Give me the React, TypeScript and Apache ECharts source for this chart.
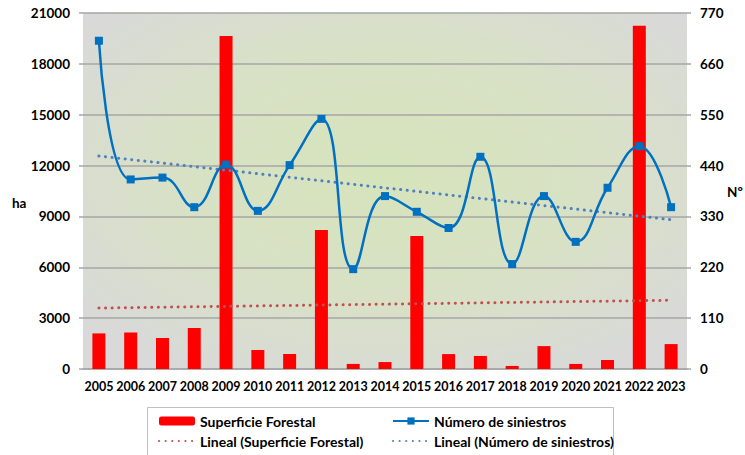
import React, { useEffect, useRef } from "react";
import * as echarts from "echarts";

const years = ["2005","2006","2007","2008","2009","2010","2011","2012","2013","2014","2015","2016","2017","2018","2019","2020","2021","2022","2023"];
const superficie = [2100,2150,1830,2420,19650,1120,885,8200,300,410,7850,880,770,180,1350,300,530,20250,1470];
const siniestros = [710,410,414,350,442,342,441,541,216,374,340,305,459,227,374,275,392,482,350];
const leftTicks = { min: 0, max: 21000, interval: 3000 };
const rightTicks = { min: 0, max: 770, interval: 110 };

function linearTrend(values: number[]): number[] {
  const n = values.length;
  const xs = values.map((_, i) => i);
  const mx = xs.reduce((a, b) => a + b, 0) / n;
  const my = values.reduce((a, b) => a + b, 0) / n;
  let num = 0, den = 0;
  for (let i = 0; i < n; i++) { num += (xs[i] - mx) * (values[i] - my); den += (xs[i] - mx) ** 2; }
  const b = num / den;
  const a = my - b * mx;
  return xs.map((x) => +(a + b * x).toFixed(2));
}

const FONT = "Lato, 'Open Sans', sans-serif";

export default function App() {
  const ref = useRef<HTMLDivElement>(null);
  useEffect(() => {
    if (!ref.current) return;
    const chart = echarts.init(ref.current, undefined, { renderer: "svg" });
    const labelStyle = { fontFamily: FONT, fontWeight: "bold" as const, color: "#000", fontSize: 13.5 };
    const legendText = { ...labelStyle, fontSize: 14 };
    chart.setOption({
      animation: false,
      backgroundColor: "#fff",
      textStyle: { fontFamily: FONT },
      grid: {
        left: 83, right: 58, top: 13, bottom: 86,
        show: true,
        borderWidth: 0,
        backgroundColor: new echarts.graphic.RadialGradient(0.5, 0.45, 0.65, [
          { offset: 0, color: "#d6e4bb" },
          { offset: 0.55, color: "#d8e1c6" },
          { offset: 1, color: "#d9d9d9" },
        ]),
      },
      xAxis: {
        type: "category",
        data: years,
        boundaryGap: true,
        axisLine: { show: true, lineStyle: { color: "#a6a6a6", width: 1.5 } },
        axisTick: { show: false },
        axisLabel: { ...labelStyle, fontSize: 12.5, margin: 11, interval: 0 },
      },
      yAxis: [
        {
          type: "value",
          ...leftTicks,
          axisLine: { show: false },
          axisTick: { show: true, length: 4, lineStyle: { color: "#a6a6a6", width: 1.5 } },
          splitLine: { show: true, lineStyle: { color: "#a6a6a6", width: 1.5 } },
          axisLabel: { ...labelStyle, margin: 13, formatter: (v: number) => String(v) },
        },
        {
          type: "value",
          ...rightTicks,
          position: "right",
          axisLine: { show: false },
          axisTick: { show: true, length: 4, lineStyle: { color: "#a6a6a6", width: 1.5 } },
          splitLine: { show: false },
          axisLabel: { ...labelStyle, margin: 13, formatter: (v: number) => String(v) },
        },
      ],
      legend: [
        {
          orient: "vertical",
          left: 153, top: 409,
          itemWidth: 36, itemHeight: 9, itemGap: 6,
          textStyle: legendText,
          data: [
            { name: "Superficie Forestal" },
            { name: "Lineal (Superficie Forestal)", itemStyle: { opacity: 0 } },
          ],
        },
        {
          orient: "vertical",
          left: 387, top: 409,
          itemWidth: 36, itemHeight: 9, itemGap: 6,
          textStyle: legendText,
          data: [
            { name: "Número de siniestros" },
            { name: "Lineal (Número de siniestros)", itemStyle: { opacity: 0 } },
          ],
        },
      ],
      graphic: [
        { type: "rect", shape: { x: 147.5, y: 407.5, width: 466, height: 60 }, style: { fill: "none", stroke: "#bfbfbf", lineWidth: 1 }, z: -1 },
        { type: "text", x: 12, y: 196, style: { text: "ha", font: `bold 13.5px ${FONT}`, fill: "#000" } },
        { type: "text", x: 727, y: 185, style: { text: "Nº", font: `bold 13.5px ${FONT}`, fill: "#000" } },
      ],
      series: [
        {
          name: "Superficie Forestal",
          type: "bar",
          data: superficie,
          barWidth: 13,
          itemStyle: { color: "#ff0000" },
          z: 2,
        },
        {
          name: "Lineal (Superficie Forestal)",
          type: "line",
          data: linearTrend(superficie),
          symbol: "none",
          lineStyle: { color: "#c0504d", width: 3, type: [0.1, 6.5], cap: "round" },
          itemStyle: { color: "#c0504d" },
          z: 3,
        },
        {
          name: "Número de siniestros",
          type: "line",
          yAxisIndex: 1,
          data: siniestros,
          smooth: 0.45,
          symbol: "rect",
          symbolSize: 8,
          lineStyle: { color: "#0070c0", width: 2.5 },
          itemStyle: { color: "#0070c0" },
          z: 4,
        },
        {
          name: "Lineal (Número de siniestros)",
          type: "line",
          yAxisIndex: 1,
          data: linearTrend(siniestros),
          symbol: "none",
          lineStyle: { color: "#4f81bd", width: 3, type: [0.1, 6.5], cap: "round" },
          itemStyle: { color: "#4f81bd" },
          z: 3,
        },
      ],
    });
    return () => chart.dispose();
  }, []);
  return <div ref={ref} style={{ width: 745, height: 455, position: "absolute", left: 0, top: 0 }} />;
}
